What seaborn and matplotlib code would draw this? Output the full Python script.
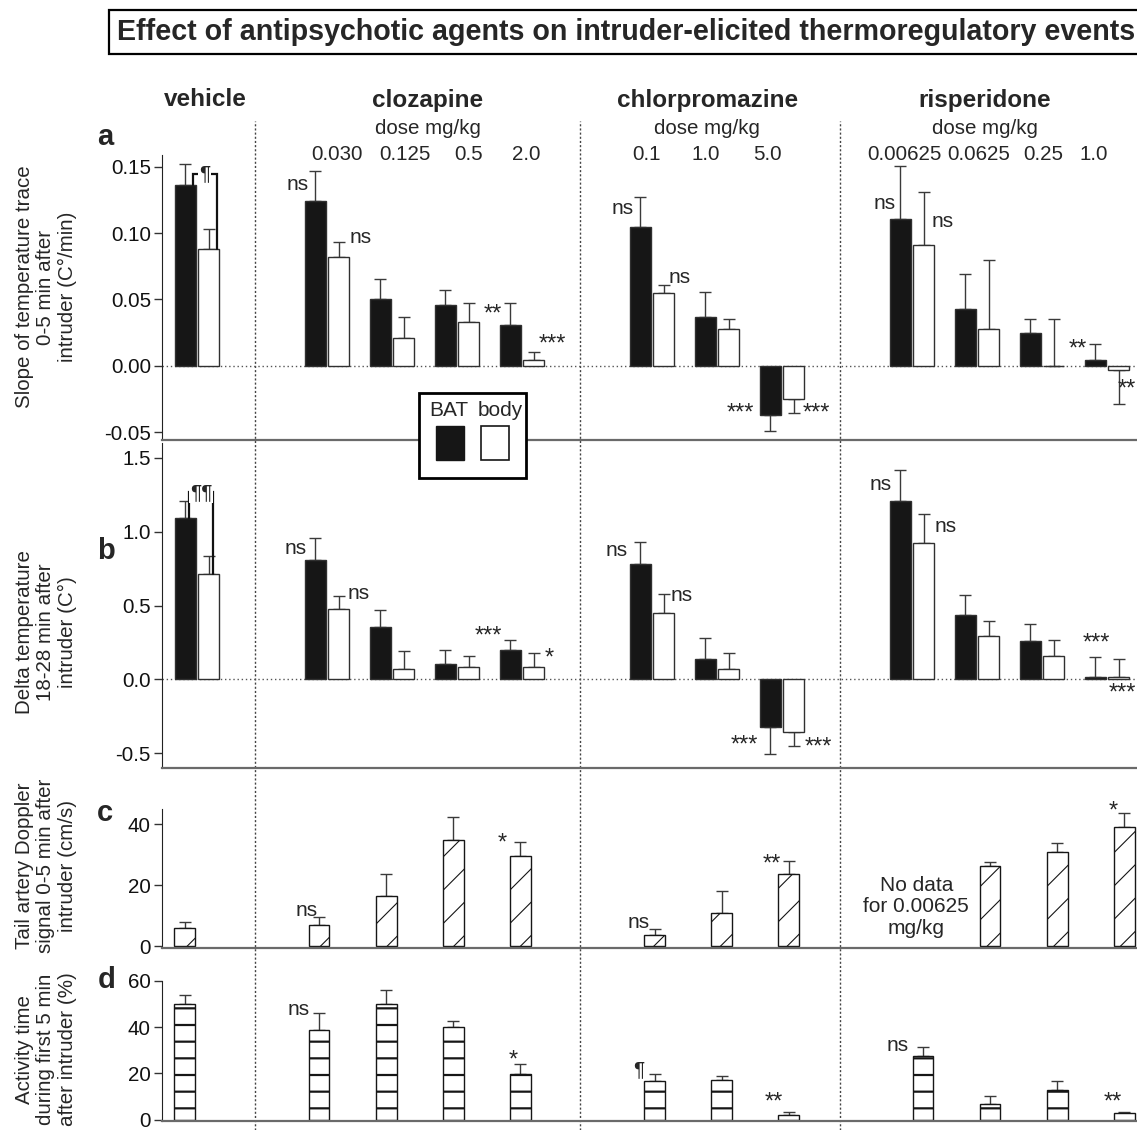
import matplotlib

matplotlib.use("Agg")
import matplotlib.pyplot as plt  # noqa: E402
import numpy as np  # noqa: E402
import pandas as pd  # noqa: E402
import seaborn as sns  # noqa: E402
from matplotlib.lines import Line2D  # noqa: E402
from matplotlib.patches import Rectangle  # noqa: E402
from matplotlib.transforms import blended_transform_factory  # noqa: E402

# ---- data ----
drugs = ["vehicle"] + ["clozapine"] * 4 + ["chlorpromazine"] * 3 + ["risperidone"] * 4
doses = ["", "0.030", "0.125", "0.5", "2.0", "0.1", "1.0", "5.0", "0.00625", "0.0625", "0.25", "1.0"]

slope_bat = [0.136, 0.124, 0.0505, 0.046, 0.031, 0.105, 0.037, -0.037, 0.111, 0.043, 0.025, 0.0045]
slope_bat_sem = [0.016, 0.023, 0.015, 0.011, 0.016, 0.022, 0.019, 0.012, 0.040, 0.026, 0.010, 0.012]
slope_body = [0.088, 0.082, 0.021, 0.033, 0.0045, 0.055, 0.028, -0.025, 0.091, 0.028, 0.0, -0.003]
slope_body_sem = [0.015, 0.011, 0.016, 0.014, 0.006, 0.006, 0.0075, 0.011, 0.040, 0.052, 0.035, 0.026]

delta_bat = [1.095, 0.81, 0.353, 0.104, 0.197, 0.783, 0.138, -0.322, 1.206, 0.437, 0.258, 0.014]
delta_bat_sem = [0.113, 0.15, 0.117, 0.097, 0.072, 0.144, 0.14, 0.185, 0.213, 0.137, 0.115, 0.135]
delta_body = [0.71, 0.473, 0.07, 0.086, 0.081, 0.45, 0.072, -0.353, 0.923, 0.294, 0.16, 0.018]
delta_body_sem = [0.127, 0.088, 0.122, 0.07, 0.1, 0.129, 0.109, 0.1, 0.195, 0.104, 0.109, 0.118]

doppler = [6.2, 7.0, 16.6, 35.0, 29.5, 3.9, 11.0, 23.8, np.nan, 26.4, 31.0, 39.2]
doppler_sem = [1.9, 2.5, 7.1, 7.5, 4.8, 1.8, 7.1, 4.2, np.nan, 1.2, 2.8, 4.4]
activity = [50.0, 38.9, 50.0, 39.9, 19.7, 16.5, 17.2, 2.1, 27.4, 6.9, 12.9, 2.8]
activity_sem = [3.75, 7.4, 6.25, 3.0, 4.2, 3.4, 1.8, 1.4, 4.2, 3.2, 3.6, 0.7]

W, H = 1137, 1130

sns.set_style("ticks")
plt.rcParams["font.family"] = ["Liberation Sans", "DejaVu Sans"]
plt.rcParams["axes.unicode_minus"] = False
plt.rcParams["axes.edgecolor"] = "#333333"
plt.rcParams["xtick.color"] = "#333333"
plt.rcParams["ytick.color"] = "#333333"
plt.rcParams["ytick.labelcolor"] = "#111111"

# one empty slot between drugs
slots = []
pos = 0
for i, d in enumerate(drugs):
    if i > 0:
        pos += 2 if d != drugs[i - 1] else 1
    slots.append(pos)
slots = np.array(slots, dtype=float)

PAIR_W, PAIR_GAP = 0.72, 0.10
OFF = PAIR_W / 4
INK = "#161616"
EDGE = "#303030"


def px(x, y):
    return x / W, 1 - y / H


def rect(l, t, r, b):
    return [l / W, 1 - b / H, (r - l) / W, (b - t) / H]


def draw_err(ax, x, vals, sems):
    vals = np.asarray(vals, float)
    sems = np.asarray(sems, float)
    ok = ~np.isnan(vals)
    x, vals, sems = np.asarray(x)[ok], vals[ok], sems[ok]
    lower = np.where(vals < 0, sems, 0)
    upper = np.where(vals < 0, 0, sems)
    ax.errorbar(x, vals, yerr=[lower, upper], fmt="none", ecolor="#3a3a3a",
                elinewidth=1.0, capsize=4.5, capthick=1.0, zorder=0.9)


def pair_panel(ax, bat, bat_sem, body, body_sem):
    df = pd.DataFrame({
        "slot": np.concatenate([slots, slots]),
        "source": ["BAT"] * len(slots) + ["body"] * len(slots),
        "value": list(bat) + list(body),
    })
    sns.barplot(data=df, x="slot", y="value", hue="source", hue_order=["BAT", "body"],
                palette={"BAT": INK, "body": "white"}, native_scale=True,
                width=PAIR_W, gap=PAIR_GAP, errorbar=None, saturation=1,
                edgecolor=EDGE, linewidth=1.0, legend=False, ax=ax)
    draw_err(ax, slots - OFF, bat, bat_sem)
    draw_err(ax, slots + OFF, body, body_sem)
    ax.axhline(0, color="#555555", lw=1.0, ls=(0, (1, 2)), zorder=0.5)
    ax.set_xlim(-0.54, 14.46)


def single_panel(ax, vals, sems, hatch, hatch_lw):
    df = pd.DataFrame({"slot": slots, "value": vals}).dropna()
    with plt.rc_context({"hatch.linewidth": hatch_lw}):
        sns.barplot(data=df, x="slot", y="value", native_scale=True, width=0.31,
                    errorbar=None, color="white", saturation=1, edgecolor=INK,
                    linewidth=1.0, hatch=hatch, ax=ax)
    for p in ax.patches:
        if hasattr(p, "set_hatch_linewidth"):
            p.set_hatch_linewidth(hatch_lw)
        p.set_edgecolor(INK)
    draw_err(ax, slots, vals, sems)
    ax.set_xlim(-0.34, 14.19)


def style_axes(ax, ylim, yticks, fmt):
    ax.set_ylim(*ylim)
    ax.set_yticks(yticks)
    ax.set_yticklabels([fmt.format(t) for t in yticks], fontsize=14.8)
    ax.set_xticks([])
    ax.set_xlabel("")
    sns.despine(ax=ax, top=True, right=True)
    ax.spines["bottom"].set_color("#6a6a6a")
    ax.spines["bottom"].set_linewidth(1.6)
    ax.spines["left"].set_color("#222222")
    ax.tick_params(axis="y", length=6, width=1, pad=2)


fig = plt.figure(figsize=(W / 100, H / 100), dpi=100)
ax_a = fig.add_axes(rect(162, 155, 1137, 440))
ax_b = fig.add_axes(rect(162, 443, 1137, 768))
ax_c = fig.add_axes(rect(162, 809, 1137, 948))
ax_d = fig.add_axes(rect(162, 981, 1137, 1121))
for ax in (ax_a, ax_b, ax_c, ax_d):
    ax.patch.set_alpha(0)

pair_panel(ax_a, slope_bat, slope_bat_sem, slope_body, slope_body_sem)
style_axes(ax_a, (-0.056, 0.159), [-0.05, 0.0, 0.05, 0.10, 0.15], "{:.2f}")
pair_panel(ax_b, delta_bat, delta_bat_sem, delta_body, delta_body_sem)
style_axes(ax_b, (-0.60, 1.60), [-0.5, 0.0, 0.5, 1.0, 1.5], "{:.1f}")
single_panel(ax_c, doppler, doppler_sem, "/", 0.8)
style_axes(ax_c, (-0.5, 45), [0, 20, 40], "{:.0f}")
single_panel(ax_d, activity, activity_sem, "-", 1.6)
style_axes(ax_d, (-0.6, 60), [0, 20, 40, 60], "{:.0f}")

ylabels = [
    (ax_a, "Slope of temperature trace\n0-5 min after\nintruder (C\u00b0/min)", 0.537),
    (ax_b, "Delta temperature\n18-28 min after\nintruder (C\u00b0)", 0.418),
    (ax_c, "Tail artery Doppler\nsignal 0-5 min after\nintruder (cm/s)", 0.59),
    (ax_d, "Activity time\nduring first 5 min\nafter intruder (%)", 0.51),
]
for ax, txt, yc in ylabels:
    ax.set_ylabel(txt, fontsize=14.8, linespacing=1.15, va="center")
    ax.yaxis.set_label_coords(-0.119, yc)

# significance marks (text, x, y) in data units of each panel
marks_a = [("ns", 1.54, 0.138), ("ns", 2.52, 0.098), ("**", 4.55, 0.039), ("***", 5.46, 0.016),
           ("ns", 6.54, 0.120), ("ns", 7.43, 0.068), ("***", 8.35, -0.0357), ("***", 9.52, -0.0357),
           ("ns", 10.57, 0.124), ("ns", 11.47, 0.110), ("**", 13.55, 0.0126)]
marks_b = [("ns", 1.51, 0.896), ("ns", 2.49, 0.595), ("***", 4.48, 0.289), ("*", 5.41, 0.143),
           ("ns", 6.46, 0.889), ("ns", 7.45, 0.584), ("***", 8.42, -0.446), ("***", 9.55, -0.462),
           ("ns", 10.51, 1.33), ("ns", 11.51, 1.048), ("***", 13.84, 0.244)]
marks_c = [("ns", 1.81, 12.5), ("*", 4.73, 33.8), ("ns", 6.76, 8.6), ("**", 8.74, 26.7),
           ("*", 13.83, 44.1)]
marks_d = [("ns", 1.69, 48.6), ("*", 4.9, 25.7), ("\u00b6", 6.77, 22.5), ("**", 8.77, 7.4),
           ("ns", 10.63, 32.9), ("**", 13.83, 7.4)]
for ax, marks in ((ax_a, marks_a), (ax_b, marks_b), (ax_c, marks_c), (ax_d, marks_d)):
    for txt, x, y in marks:
        star = txt.startswith("*")
        ax.text(x, y, txt, ha="center", va="center_baseline" if not star else "center",
                fontsize=17 if star else 15, clip_on=False)

# marks sitting against the right edge of the figure
edge_tr_a = blended_transform_factory(fig.transFigure, ax_a.transData)
edge_tr_b = blended_transform_factory(fig.transFigure, ax_b.transData)
ax_a.text(1 - 1 / W, -0.018, "**", transform=edge_tr_a, ha="right", va="center", fontsize=17)
ax_b.text(1 - 1 / W, -0.095, "***", transform=edge_tr_b, ha="right", va="center", fontsize=17)

ax_c.text(10.9, 13.0, "No data\nfor 0.00625\nmg/kg", ha="center", va="center",
          fontsize=15, linespacing=1.15)


# vehicle comparison brackets
def bracket(ax, top, label, x0, x1, bat_top, body_top):
    ax.plot([x0, x0, x1, x1], [bat_top, top, top, body_top], color="#111111", lw=1.6,
            solid_joinstyle="miter", zorder=3)
    ax.text((x0 + x1) / 2, top, label, ha="center", va="center", fontsize=15,
            bbox=dict(boxstyle="square,pad=0.05", fc="white", ec="none"), zorder=4)


bracket(ax_a, 0.145, "\u00b6", slots[0] - 0.07, slots[0] + 0.30, slope_bat[0], slope_body[0])
bracket(ax_b, 1.267, "\u00b6\u00b6", slots[0] - 0.13, slots[0] + 0.25, delta_bat[0], delta_body[0])

# separators between drugs, dotted, over the whole figure
sep_tr = blended_transform_factory(ax_a.transData, fig.transFigure)
for i in range(1, len(drugs)):
    if drugs[i] != drugs[i - 1]:
        xs = slots[i] - 1.11
        fig.add_artist(Line2D([xs, xs], [0, 1 - 121 / H], transform=sep_tr, color="#444444",
                              lw=1.0, ls=(0, (1.5, 1.5)), zorder=0))

# headers
head_tr = blended_transform_factory(ax_a.transData, fig.transFigure)
header_x = {"vehicle": 0.12, "clozapine": 3.55, "chlorpromazine": 7.85, "risperidone": 12.12}
for name, x in header_x.items():
    fig.text(x, 1 - 100 / H, name, transform=head_tr, ha="center", va="center",
             fontsize=17.5, fontweight="bold")
    if name != "vehicle":
        fig.text(x, 1 - 128 / H, "dose mg/kg", transform=head_tr, ha="center", va="center",
                 fontsize=14.8)
dose_x = [2.15, 3.2, 4.18, 5.06, 6.92, 7.82, 8.78, 10.88, 12.03, 13.02, 13.8]
for d, x in zip(doses[1:], dose_x):
    fig.text(x, 1 - 154 / H, d, transform=head_tr, ha="center", va="center", fontsize=14.8)

for letter, (x, y) in zip("abcd", [(105, 137), (106, 551), (105, 813), (107, 980)]):
    fig.text(*px(x, y), letter, ha="center", va="center", fontsize=21, fontweight="bold")

fig.text(*px(117, 32), "Effect of antipsychotic agents on intruder-elicited thermoregulatory events",
         ha="left", va="center", fontsize=20.6, fontweight="bold",
         bbox=dict(boxstyle="square,pad=0.28", fc="white", ec="black", lw=1.6))

# legend box
fig.patches.append(Rectangle(px(419, 478), 107 / W, 85 / H, transform=fig.transFigure,
                             fc="white", ec="black", lw=2, zorder=5))
fig.patches.append(Rectangle(px(436, 460), 28 / W, 34 / H, transform=fig.transFigure,
                             fc=INK, ec=INK, lw=1, zorder=6))
fig.patches.append(Rectangle(px(481, 460), 28 / W, 34 / H, transform=fig.transFigure,
                             fc="white", ec=INK, lw=1.2, zorder=6))
fig.text(*px(449, 411), "BAT", ha="center", va="center", fontsize=15, zorder=7)
fig.text(*px(500, 410), "body", ha="center", va="center", fontsize=15, zorder=7)

fig.savefig("out.png", dpi=100)
